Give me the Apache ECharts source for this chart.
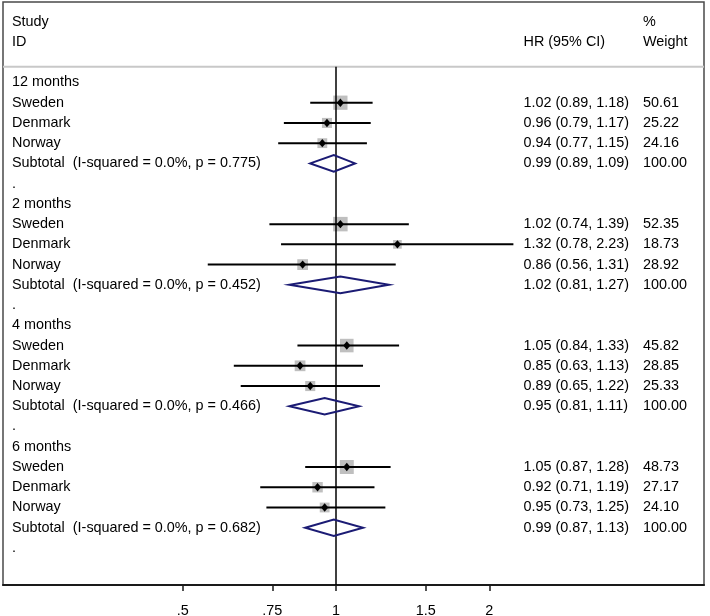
<!DOCTYPE html>
<html><head><meta charset="utf-8">
<script src="https://cdn.jsdelivr.net/npm/echarts@6/dist/echarts.min.js"></script>
<style>html,body{margin:0;padding:0;background:#fff}#c{width:710px;height:616px}</style>
</head><body><div id="c"></div>
<script>
// ---- data ----
const groups = ['12 months', '2 months', '4 months', '6 months'];
const studies = ['Sweden', 'Denmark', 'Norway'];
const hr = [[1.02, 0.96, 0.94], [1.02, 1.32, 0.86], [1.05, 0.85, 0.89], [1.05, 0.92, 0.95]];
const ciLow = [[0.89, 0.79, 0.77], [0.74, 0.78, 0.56], [0.84, 0.63, 0.65], [0.87, 0.71, 0.73]];
const ciHigh = [[1.18, 1.17, 1.15], [1.39, 2.23, 1.31], [1.33, 1.13, 1.22], [1.28, 1.19, 1.25]];
const weights = [[50.61, 25.22, 24.16], [52.35, 18.73, 28.92], [45.82, 28.85, 25.33], [48.73, 27.17, 24.10]];
const subHR = [0.99, 1.02, 0.95, 0.99];
const subLow = [0.89, 0.81, 0.81, 0.87];
const subHigh = [1.09, 1.27, 1.11, 1.13];
const iSquared = ['0.0%', '0.0%', '0.0%', '0.0%'];
const pHet = ['0.775', '0.452', '0.466', '0.682'];
const subWeight = [100, 100, 100, 100];
const tickValues = [0.5, 0.75, 1, 1.5, 2];
const tickLabels = ['.5', '.75', '1', '1.5', '2'];
const headerLeft = ['Study', 'ID'];
const headerCI = ['', 'HR (95% CI)'];
const headerWeight = ['%', 'Weight'];

// ---- build rows ----
const FONT = "'Liberation Sans', Arial, sans-serif";
const FS = 14.4;
const f2 = v => v.toFixed(2);
const textRows = []; // {row, left, ci, wt}
const studyData = []; // [lnHR, lnLo, lnHi, row, weight]
const subData = [];   // [lnHR, lnLo, lnHi, row]
headerLeft.forEach((h, i) => textRows.push({row: i - 3, left: h, ci: headerCI[i], wt: headerWeight[i]}));
let r = 0;
groups.forEach((g, gi) => {
  textRows.push({row: r, left: g, ci: '', wt: ''}); r++;
  studies.forEach((s, si) => {
    textRows.push({row: r, left: s,
      ci: f2(hr[gi][si]) + ' (' + f2(ciLow[gi][si]) + ', ' + f2(ciHigh[gi][si]) + ')',
      wt: f2(weights[gi][si])});
    studyData.push([Math.log(hr[gi][si]), Math.log(ciLow[gi][si]), Math.log(ciHigh[gi][si]), r, weights[gi][si]]);
    r++;
  });
  textRows.push({row: r, left: 'Subtotal  (I-squared = ' + iSquared[gi] + ', p = ' + pHet[gi] + ')',
    ci: f2(subHR[gi]) + ' (' + f2(subLow[gi]) + ', ' + f2(subHigh[gi]) + ')',
    wt: f2(subWeight[gi])});
  subData.push([Math.log(subHR[gi]), Math.log(subLow[gi]), Math.log(subHigh[gi]), r]);
  r++;
  textRows.push({row: r, left: '.', ci: '', wt: ''}); r++;
});

const HEADER_SEP = -0.78;
const Y_MIN = -3.975, Y_MAX = 24.83;

const chart = echarts.init(document.getElementById('c'));
chart.setOption({
  animation: false,
  grid: {left: 3, right: 6, top: 2, bottom: 31, show: true, borderColor: '#4a4a4a', borderWidth: 1.5,
         outerBoundsMode: 'none', containLabel: false},
  xAxis: {
    type: 'value', position: 'bottom', min: Math.log(0.2219), max: Math.log(5.279),
    splitLine: {show: false},
    axisLine: {show: true, onZero: false, lineStyle: {color: '#1a1a1a', width: 2}},
    axisTick: {show: true, length: 6, lineStyle: {color: '#1a1a1a', width: 1.5}, customValues: tickValues.map(Math.log)},
    axisLabel: {
      customValues: tickValues.map(Math.log), margin: 19,
      fontFamily: FONT, fontSize: FS, color: '#000',
      formatter: v => { const i = tickValues.findIndex(t => Math.abs(Math.log(t) - v) < 1e-6); return i >= 0 ? tickLabels[i] : ''; }
    }
  },
  yAxis: {type: 'value', inverse: true, min: Y_MIN, max: Y_MAX, show: false, splitLine: {show: false}},
  series: [
    { // header separator
      type: 'custom', silent: true, data: [[0, HEADER_SEP]],
      encode: {x: 0, y: 1},
      renderItem: (params, api) => {
        const cs = params.coordSys;
        const p = api.coord([0, HEADER_SEP]);
        return {type: 'line', shape: {x1: cs.x, y1: p[1], x2: cs.x + cs.width, y2: p[1]}, style: {stroke: '#c8c8c8', lineWidth: 2}};
      }
    },
    { // studies
      type: 'custom', silent: true, data: studyData,
      encode: {x: [0, 1, 2], y: 3},
      renderItem: (params, api) => {
        const y = api.value(3);
        const pm = api.coord([api.value(0), y]);
        const pl = api.coord([api.value(1), y]);
        const ph = api.coord([api.value(2), y]);
        const side = 2.0 * Math.sqrt(api.value(4));
        return {type: 'group', children: [
          {type: 'rect', shape: {x: pm[0] - side / 2, y: pm[1] - side / 2, width: side, height: side}, style: {fill: '#bfbfbf'}},
          {type: 'line', shape: {x1: pl[0], y1: pl[1], x2: ph[0], y2: ph[1]}, style: {stroke: '#000', lineWidth: 2}},
          {type: 'polygon', shape: {points: [[pm[0] - 3.6, pm[1]], [pm[0], pm[1] - 4.2], [pm[0] + 3.6, pm[1]], [pm[0], pm[1] + 4.2]]}, style: {fill: '#000'}}
        ]};
      }
    },
    { // reference line at HR = 1
      type: 'custom', silent: true, data: [[0, HEADER_SEP]],
      encode: {x: 0, y: 1},
      renderItem: (params, api) => {
        const p = api.coord([0, HEADER_SEP]);
        const pb = api.coord([0, Y_MAX]);
        return {type: 'line', shape: {x1: p[0], y1: p[1], x2: pb[0], y2: pb[1]}, style: {stroke: '#000', lineWidth: 1.5}};
      }
    },
    { // subtotal diamonds
      type: 'custom', silent: true, data: subData,
      encode: {x: [0, 1, 2], y: 3},
      renderItem: (params, api) => {
        const y = api.value(3);
        const top = api.coord([api.value(0), y - 0.41]);
        const bot = api.coord([api.value(0), y + 0.41]);
        const l = api.coord([api.value(1), y]);
        const h = api.coord([api.value(2), y]);
        return {type: 'polygon', shape: {points: [l, top, h, bot]}, style: {fill: 'none', stroke: '#1b1b74', lineWidth: 2}};
      }
    },
    { // text columns
      type: 'custom', silent: true, data: textRows.map(t => [0, t.row]),
      encode: {x: 0, y: 1},
      renderItem: (params, api) => {
        const t = textRows[params.dataIndex];
        const y = api.coord([0, api.value(1)])[1];
        const st = (x, s) => ({type: 'text', x: x, y: y, style: {text: s, fill: '#000', font: FS + 'px ' + FONT, textAlign: 'left', textVerticalAlign: 'middle'}});
        return {type: 'group', children: [st(12, t.left), st(523.5, t.ci), st(643, t.wt)]};
      }
    }
  ]
});
</script></body></html>
